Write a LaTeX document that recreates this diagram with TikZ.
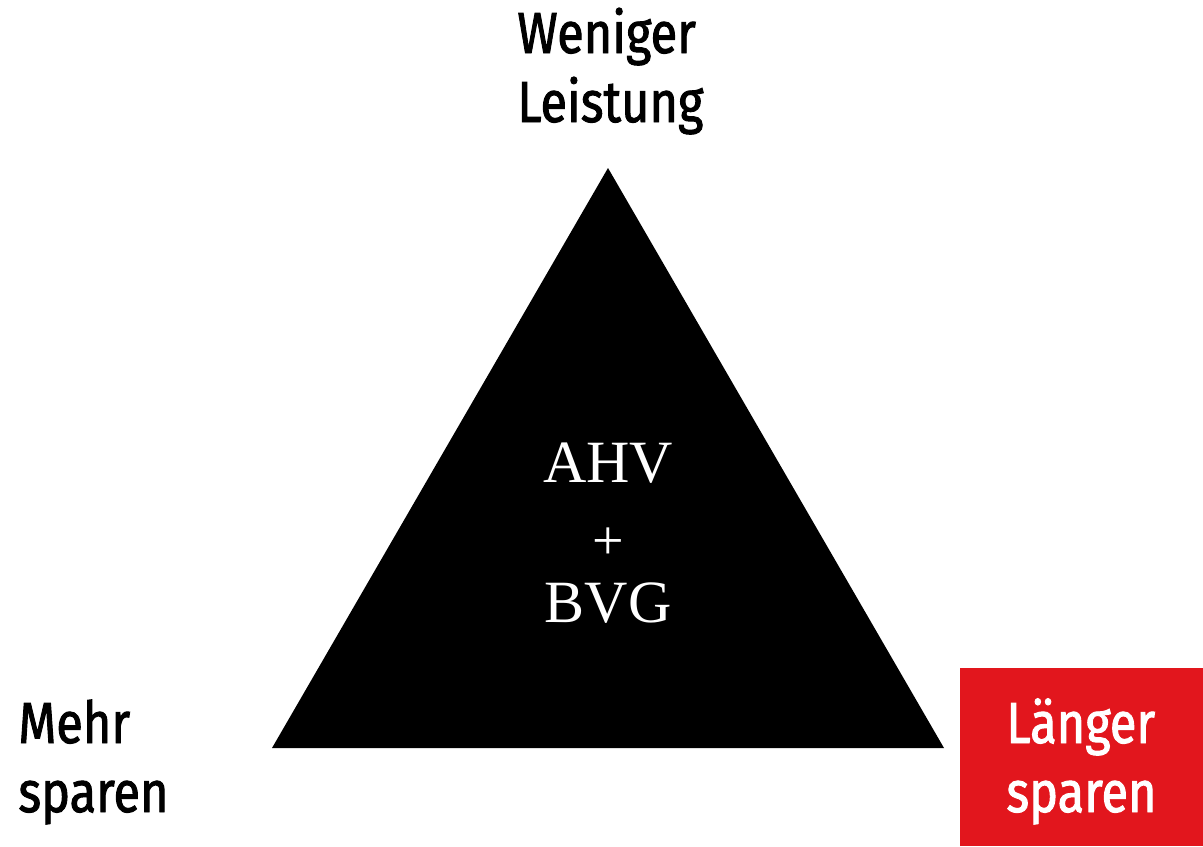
\documentclass[tikz,border=0pt]{standalone}
\usepackage{fontspec}
\setmainfont{Liberation Serif}
\newfontfamily\labelfont{Fira Sans}[FakeStretch=0.84, FakeBold=1.6]
\definecolor{signalrot}{RGB}{226,22,29}
\tikzset{
	ecke/.style={inner sep=0pt, anchor=base west, align=left,
		font=\labelfont\fontsize{29}{34.5}\selectfont},
	saeule/.style={inner sep=0pt, anchor=base, text=white,
		font=\fontsize{30}{36}\selectfont}
}
\begin{document}
\begin{tikzpicture}[x=0.5pt, y=-0.5pt]
	\useasboundingbox (0,0) rectangle (1203,846);
	% Dreieck
	\fill[black] (272,748) -- (608,168) -- (944,748) -- cycle;
	% roter Kasten rechts unten
	\fill[signalrot] (960,668) rectangle (1203,846);

	% Beschriftung der Ecken (Basislinie der zweiten Zeile)
	\node[ecke] (leistung) at (517,122) {Weniger\\Leistung};
	\node[ecke] (mehr) at (18,812) {Mehr\\sparen};
	\node[ecke, text=white] (laenger) at (1006,812) {Länger\\sparen};

	% Inhalt des Dreiecks
	\node[saeule] (ahv) at (608,482) {AHV};
	\node[saeule, font=\fontsize{28}{32}\selectfont] (plus) at (608,559) {+};
	\node[saeule] (bvg) at (608,622) {BVG};
\end{tikzpicture}
\end{document}
